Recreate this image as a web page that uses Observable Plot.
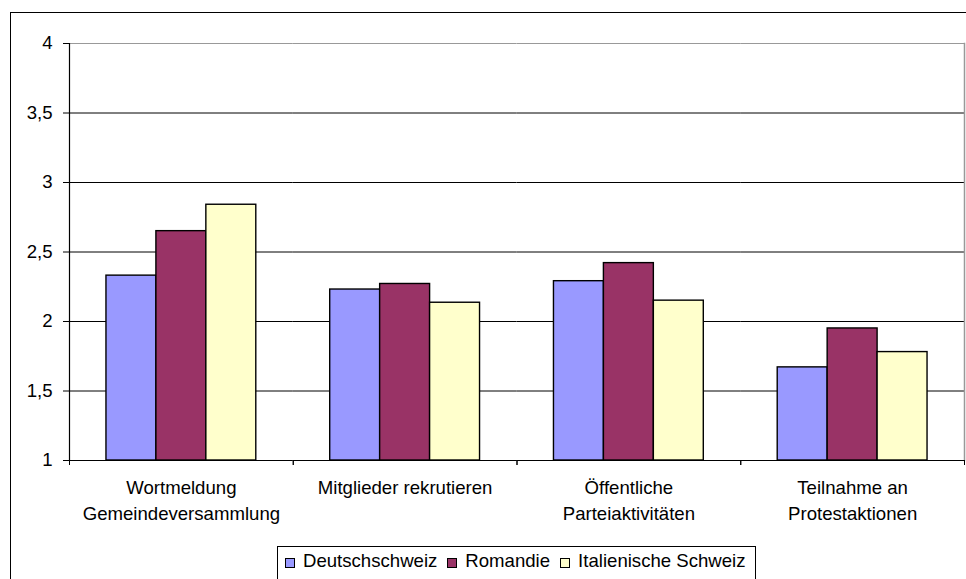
<!DOCTYPE html>
<html>
<head>
<meta charset="utf-8">
<script src="https://cdn.jsdelivr.net/npm/d3@7"></script>
<script src="https://cdn.jsdelivr.net/npm/@observablehq/plot@0.6"></script>
<style>
  html, body { margin: 0; padding: 0; background: #fff; }
  body { font-family: "Liberation Sans", Arial, sans-serif; color: #000; }
  #wrap { position: relative; width: 966px; height: 579px; overflow: hidden; background: #fff; }
  #border { position: absolute; left: 10px; top: 12px; width: 1100px; height: 1000px;
            border: 1.5px solid #000; box-sizing: border-box; z-index: 3; pointer-events: none; }
  #chart { position: absolute; left: 0; top: 0; z-index: 1; }
  #chart svg { display: block; background: transparent; }
  #legend { position: absolute; left: 277px; top: 546px; width: 479px; height: 60px;
            border: 1px solid #000; box-sizing: border-box; background: #fff; z-index: 2;
            padding: 4px 0 0 7px; display: flex; align-items: flex-start; white-space: nowrap; }
  .item { display: inline-flex; align-items: center; font-size: 18.6px; line-height: 20px;
          margin-right: 10px; flex-shrink: 0; white-space: nowrap; }
  .sw { width: 10px; height: 10px; border: 1px solid #000; box-sizing: border-box; margin-right: 8px; margin-top: 4px; flex-shrink: 0; }
</style>
</head>
<body>
<div id="wrap">
  <div id="border"></div>
  <div id="chart"></div>
  <div id="legend"></div>
</div>
<script>
// ---- data ----
const categories = [
  "Wortmeldung Gemeindeversammlung",
  "Mitglieder rekrutieren",
  "Öffentliche Parteiaktivitäten",
  "Teilnahme an Protestaktionen"
];
const categoryLabels = [
  "Wortmeldung\nGemeindeversammlung",
  "Mitglieder rekrutieren",
  "Öffentliche\nParteiaktivitäten",
  "Teilnahme an\nProtestaktionen"
];
const series = ["Deutschschweiz", "Romandie", "Italienische Schweiz"];
const seriesColors = ["#9999FF", "#993366", "#FFFFCC"];
const deutschschweiz = [2.33, 2.23, 2.29, 1.67];
const romandie = [2.65, 2.27, 2.42, 1.95];
const italienischeSchweiz = [2.84, 2.135, 2.15, 1.78];
const yTicks = [1, 1.5, 2, 2.5, 3, 3.5, 4];
const yTickLabels = ["1", "1,5", "2", "2,5", "3", "3,5", "4"];
const gridValues = [1.5, 2, 2.5, 3, 3.5];

// ---- table ----
const valuesBySeries = [deutschschweiz, romandie, italienischeSchweiz];
const table = [];
categories.forEach((c, i) => {
  series.forEach((s, j) => table.push({category: c, series: s, value: valuesBySeries[j][i]}));
});

const W = 966, H = 540, mL = 69, mR = 2, mT = 43, mB = 80;
const halfFacet = (W - mL - mR) / categories.length / 2;

const chart = Plot.plot({
  width: W,
  height: H,
  marginLeft: mL,
  marginRight: mR,
  marginTop: mT,
  marginBottom: mB,
  style: {fontFamily: '"Liberation Sans", Arial, sans-serif', fontSize: "18.6px", color: "#000", background: "transparent"},
  fx: {domain: categories, padding: 0, round: false, label: null},
  x: {domain: series, paddingInner: 0, paddingOuter: 0.74, round: false, axis: null},
  y: {domain: [1, 4], label: null},
  color: {domain: series, range: seriesColors},
  marks: [
    Plot.ruleY(gridValues, {stroke: "#000", strokeWidth: 1}),
    Plot.ruleY([4], {stroke: "#999", strokeWidth: 1.2}),
    Plot.frame({anchor: "right", facetAnchor: "right", stroke: "#999", strokeWidth: 1.5}),
    Plot.barY(table, {fx: "category", x: "series", y1: 1, y2: "value", fill: "series",
                      stroke: "#000", strokeWidth: 1.4}),
    Plot.ruleY([1], {stroke: "#000", strokeWidth: 1.2}),
    Plot.frame({anchor: "left", facetAnchor: "left", stroke: "#000", strokeWidth: 1.2}),
    Plot.axisY({ticks: yTicks, tickFormat: d => yTickLabels[yTicks.indexOf(d)],
                tickSize: 6, tickPadding: 11, label: null, fontSize: 18.6}),
    Plot.axisFx({anchor: "bottom", tickSize: 5, text: null, dx: -halfFacet, label: null}),
    Plot.axisFx({anchor: "bottom", tickSize: 5, text: null, dx: halfFacet, label: null}),
    Plot.axisFx({anchor: "bottom", tickSize: 0, tickPadding: 16, lineHeight: 1.36, fontSize: 18.6,
                 label: null, tickFormat: d => categoryLabels[categories.indexOf(d)]})
  ]
});
document.getElementById("chart").appendChild(chart);

// ---- legend ----
const legend = document.getElementById("legend");
series.forEach((s, i) => {
  const item = document.createElement("span");
  item.className = "item";
  const sw = document.createElement("span");
  sw.className = "sw";
  sw.style.background = seriesColors[i];
  item.appendChild(sw);
  item.appendChild(document.createTextNode(s));
  legend.appendChild(item);
});
</script>
</body>
</html>
